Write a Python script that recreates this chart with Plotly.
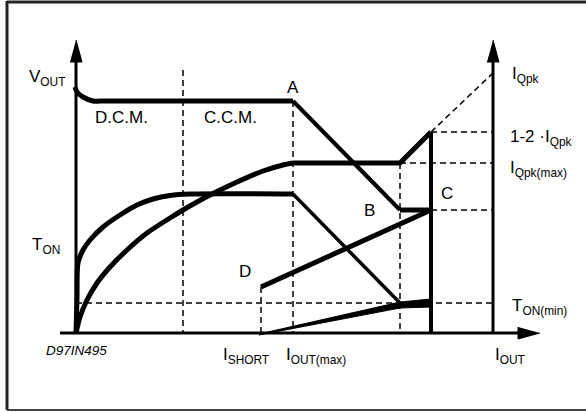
import plotly.graph_objects as go

# schematic units: origin at the axes crossing, x = output current, y = level (arbitrary)
vout_x = [-1, 1, 7, 17, 24, 217, 324, 355]
vout_y = [246, 241, 236, 232, 232, 232, 123, 123]

iqpk_x = [0, 4, 11, 21, 34, 51, 71, 94, 107, 134, 161, 187, 207, 217, 324, 355]
iqpk_y = [0, 16, 33, 50, 66, 83, 100, 115, 123, 138, 151, 162, 168, 170, 170, 201]

ton_x = [0, 1, 2, 7, 14, 27, 44, 61, 77, 94, 114, 217]
ton_y = [0, 35, 70, 83, 93, 106, 118, 128, 134, 137.5, 139, 139]
ton_fold_x = [217, 324]
ton_fold_y = [139, 30]

short_x = [185, 355]
short_y = [46, 123]
wedge_x = [183, 324, 355, 355, 324, 183]
wedge_y = [-1, 31, 34, 26, 25, -2]

limit_x = [355, 355]
limit_y = [201, 0]

# reference levels
x_dcm, x_max, x_knee, x_short, x_axis2 = 107, 217, 324, 185, 417
y_ton_min, y_qpk_max, y_qpk_12, y_c, y_qpk = 30, 170, 201, 123, 260

fig = go.Figure()

def line(x, y, w=5, smooth=False):
    fig.add_trace(go.Scatter(x=x, y=y, mode='lines',
                             line=dict(color='black', width=w,
                                       shape='spline' if smooth else 'linear', smoothing=0.8),
                             hoverinfo='skip'))

def dashed(x, y):
    fig.add_trace(go.Scatter(x=x, y=y, mode='lines',
                             line=dict(color='black', width=1.5, dash='6px,4px'),
                             hoverinfo='skip'))

def poly(x, y):
    fig.add_trace(go.Scatter(x=x, y=y, mode='lines', fill='toself', fillcolor='black',
                             line=dict(color='black', width=1), hoverinfo='skip'))

# dashed guides
dashed([x_dcm, x_dcm], [263, 0])
dashed([x_max, x_max], [232, 0])
dashed([x_knee, x_knee], [y_qpk_max, 0])
dashed([x_short, x_short], [short_y[0], 0])
dashed([0, x_axis2], [y_ton_min, y_ton_min])
dashed([x_knee, x_axis2], [y_qpk_max, y_qpk_max])
dashed([limit_x[0], x_axis2], [y_qpk_12, y_qpk_12])
dashed([limit_x[0], x_axis2], [y_c, y_c])
dashed([limit_x[0], x_axis2], [y_qpk_12, y_qpk])

# axes with arrows
line([0, 0], [0, 272], w=3)
line([x_axis2, x_axis2], [0, 272], w=3)
line([-16, 444], [0, 0], w=3)
poly([-6, 6, 0], [271, 271, 293])
poly([x_axis2 - 6, x_axis2 + 6, x_axis2], [271, 271, 293])
poly([442, 442, 464], [6, -6, 0])

# curves
line(vout_x[:5], vout_y[:5], w=5, smooth=True)
line(vout_x[4:6], vout_y[4:6], w=5)
line(vout_x[5:7], vout_y[5:7], w=4)
line(vout_x[6:], vout_y[6:], w=5)
line(iqpk_x[:14], iqpk_y[:14], w=5, smooth=True)
line(iqpk_x[13:], iqpk_y[13:], w=5)
line(limit_x, limit_y, w=4)
line(ton_x, ton_y, w=5, smooth=True)
line(ton_fold_x, ton_fold_y, w=3.5)
line(short_x, short_y, w=5)
poly(wedge_x, wedge_y)

F = 'Liberation Sans, Arial, sans-serif'
labels = [
    ('V<sub>OUT</sub>', -49, 255, 'left'),
    ('A', 217, 246, 'center'),
    ('D.C.M.', 45, 216, 'center'),
    ('C.C.M.', 154, 216, 'center'),
    ('B', 293, 123, 'center'),
    ('C', 371, 140, 'center'),
    ('D', 169, 62, 'center'),
    ('T<sub>ON</sub>', -46, 87, 'left'),
    ('I<sub>Qpk</sub>', 434, 258, 'left'),
    ('1-2 ·I<sub>Qpk</sub>', 432, 195, 'left'),
    ('I<sub>Qpk(max)</sub>', 432, 164, 'left'),
    ('T<sub>ON(min)</sub>', 434, 26, 'left'),
    ('I<sub>SHORT</sub>', 145, -23, 'left'),
    ('I<sub>OUT(max)</sub>', 208, -23, 'left'),
    ('I<sub>OUT</sub>', 417, -23, 'left'),
]
for txt, x, y, anc in labels:
    fig.add_annotation(x=x, y=y, text=txt, showarrow=False, xanchor=anc, yanchor='middle',
                       font=dict(family=F, size=17, color='black'))
fig.add_annotation(x=0, y=-17, text='<i>D97IN495</i>', showarrow=False,
                   font=dict(family=F, size=13.5, color='black'))

# frame (open on the right)
fig.add_shape(type='line', x0=-69, x1=510, y0=331, y1=331, line=dict(color='#222', width=3))
fig.add_shape(type='line', x0=-69, x1=-69, y0=332, y1=-77, line=dict(color='#222', width=3))
fig.add_shape(type='line', x0=-69, x1=510, y0=-77, y1=-77, line=dict(color='#444', width=2))

fig.update_layout(
    width=586, height=412,
    margin=dict(l=0, r=0, t=0, b=0),
    paper_bgcolor='white', plot_bgcolor='white',
    showlegend=False,
    xaxis=dict(range=[-76, 510], visible=False, fixedrange=True),
    yaxis=dict(range=[-79, 333], visible=False, fixedrange=True),
)
fig.write_html("out.html", config={'displayModeBar': False},
               post_script="document.body.style.margin='0';document.body.style.overflow='hidden';"
                           "document.documentElement.style.overflow='hidden';")
